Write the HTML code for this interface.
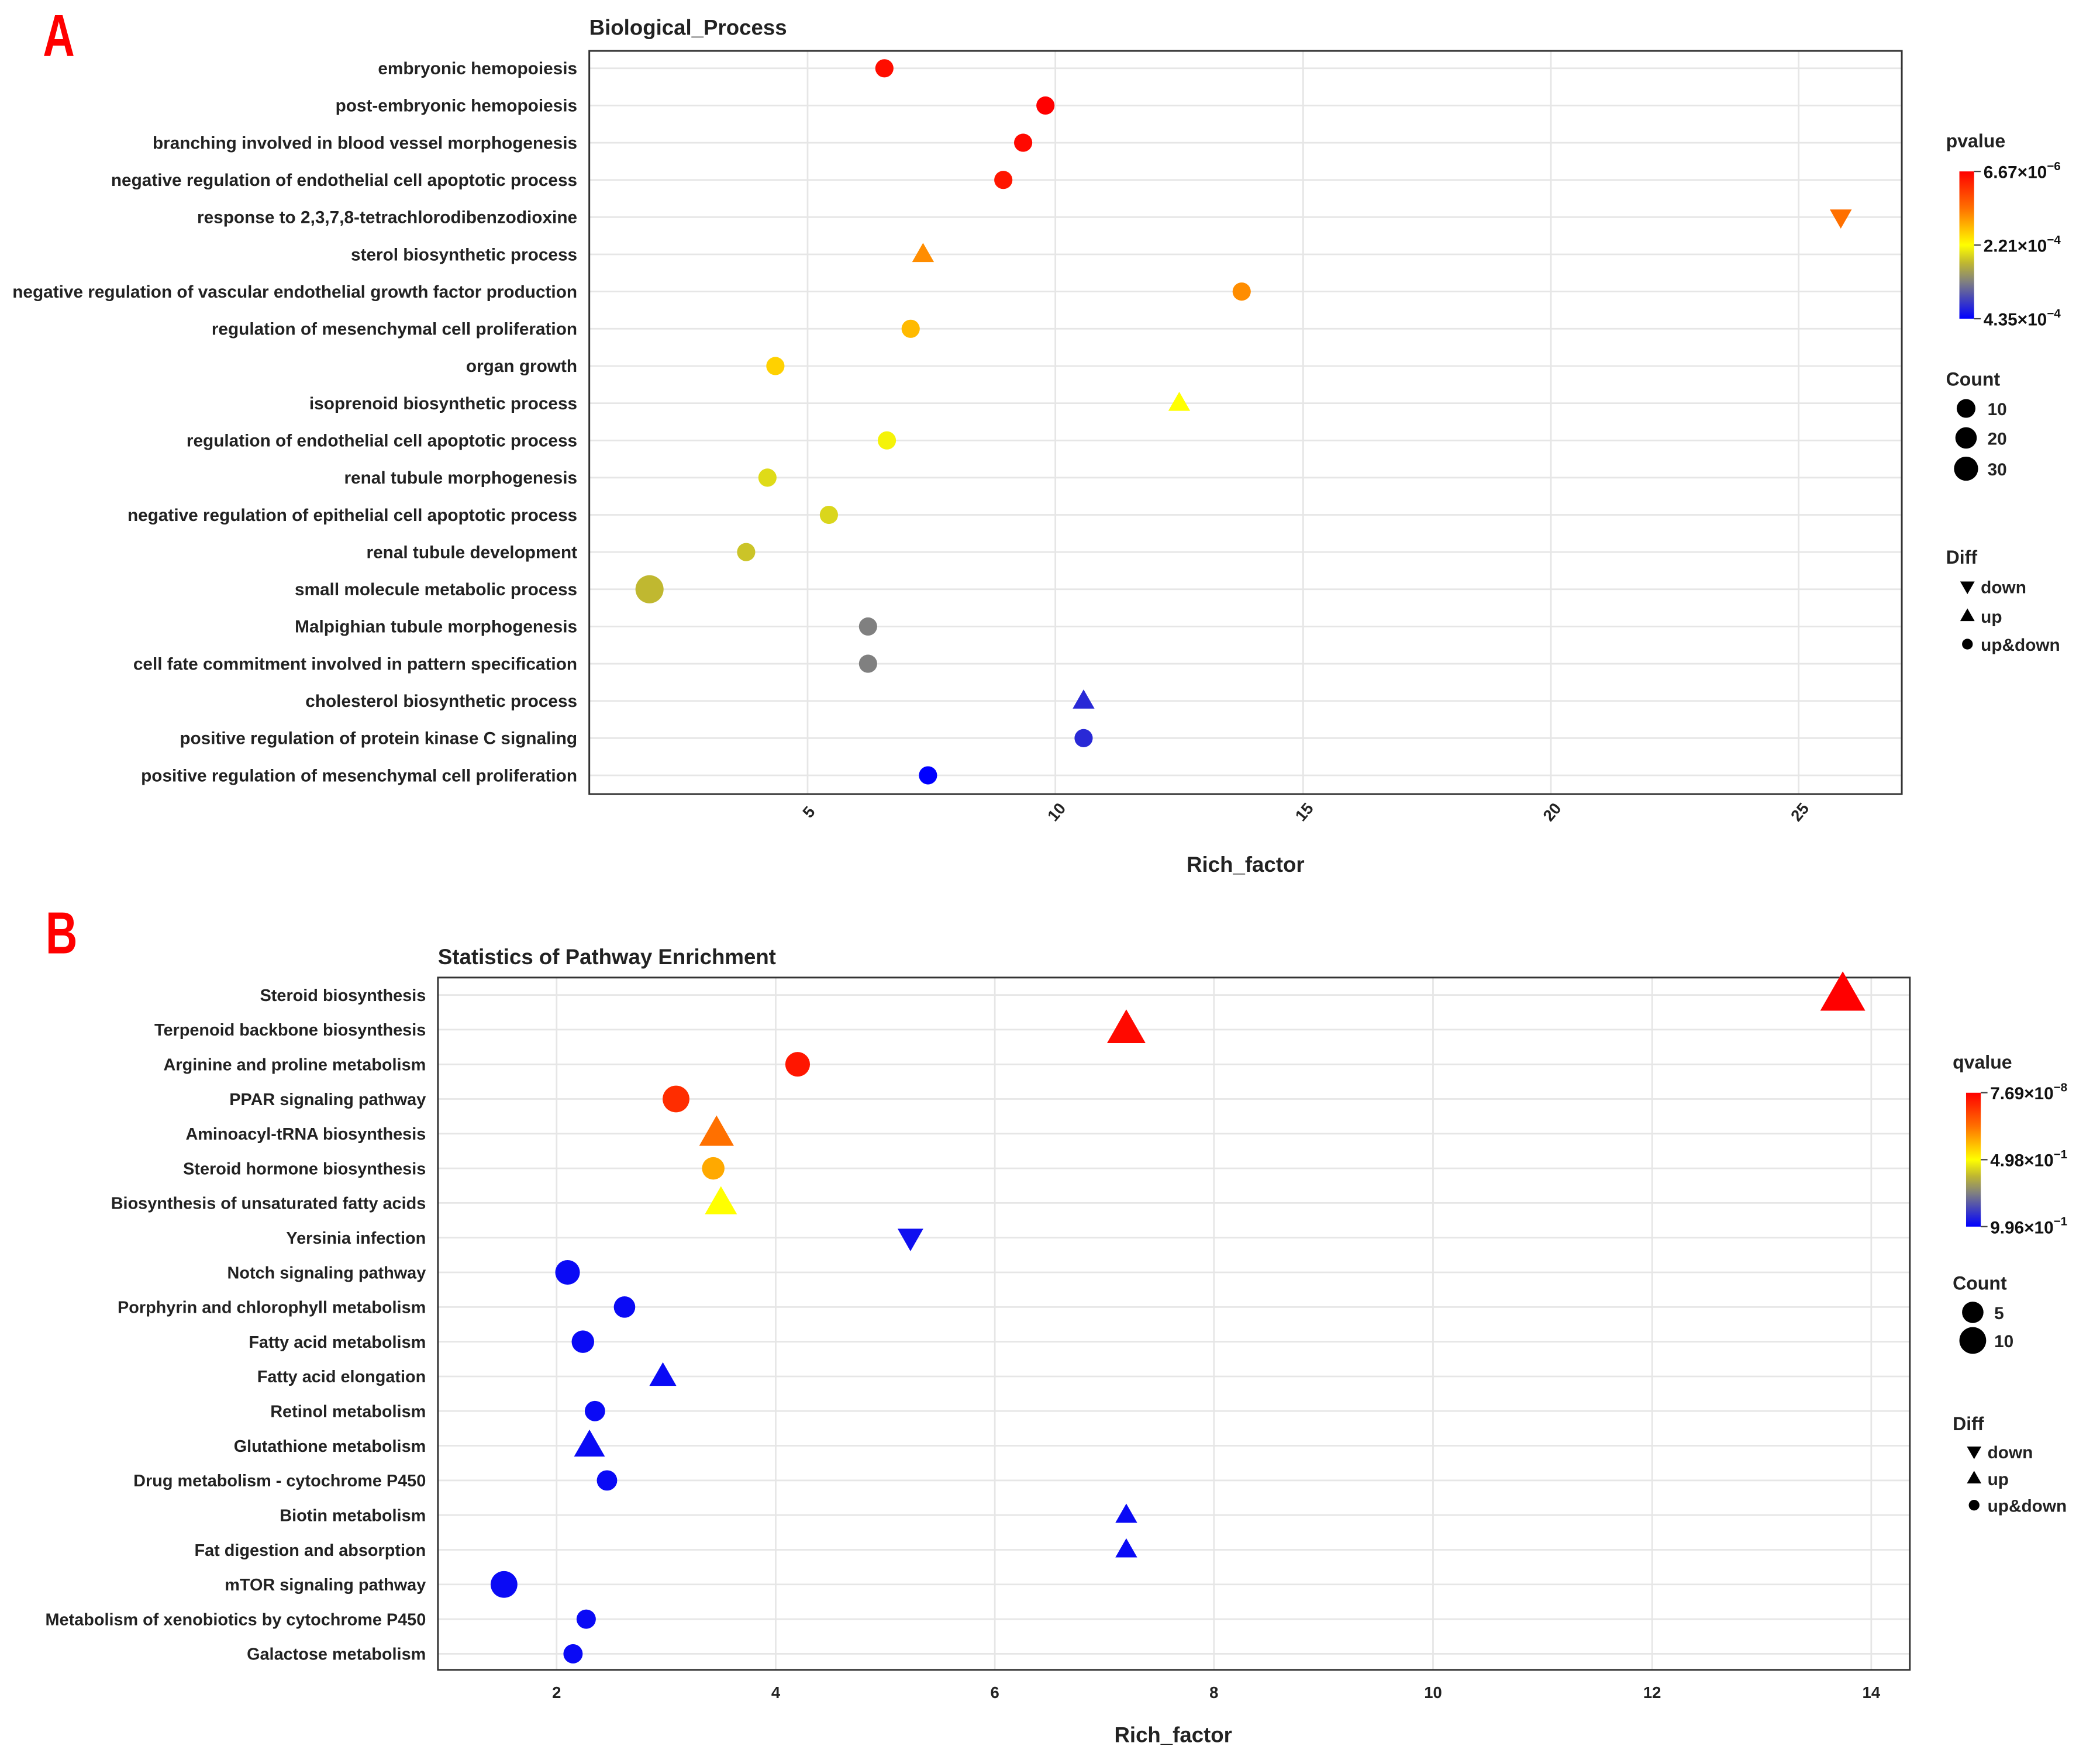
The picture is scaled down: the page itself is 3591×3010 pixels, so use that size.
<!DOCTYPE html>
<html><head><meta charset="utf-8">
<style>
html,body{margin:0;padding:0;background:#fff;}
svg{display:block;font-family:"Liberation Sans",Arial,sans-serif;}
</style></head>
<body>
<svg id="fig" width="3591" height="3010" viewBox="0 0 1568 1314.3" xmlns="http://www.w3.org/2000/svg">
<rect x="0" y="0" width="1568" height="1315" fill="#fff"/>
<text x="32" y="42" font-size="44" font-weight="bold" fill="#f00" transform="translate(32,0) scale(0.75,1) translate(-32,0)">A</text>
<text x="34" y="712" font-size="44" font-weight="bold" fill="#f00" transform="translate(34,0) scale(0.75,1) translate(-34,0)">B</text>
<g id="panelA"></g>
<g id="panelB"></g>
</svg>
<script>
// ---------- Panel A data ----------
const aTerms = ["embryonic hemopoiesis","post-embryonic hemopoiesis","branching involved in blood vessel morphogenesis","negative regulation of endothelial cell apoptotic process","response to 2,3,7,8-tetrachlorodibenzodioxine","sterol biosynthetic process","negative regulation of vascular endothelial growth factor production","regulation of mesenchymal cell proliferation","organ growth","isoprenoid biosynthetic process","regulation of endothelial cell apoptotic process","renal tubule morphogenesis","negative regulation of epithelial cell apoptotic process","renal tubule development","small molecule metabolic process","Malpighian tubule morphogenesis","cell fate commitment involved in pattern specification","cholesterol biosynthetic process","positive regulation of protein kinase C signaling","positive regulation of mesenchymal cell proliferation"];
const aRich = [6.55,9.8,9.35,8.95,25.85,7.33,13.76,7.08,4.35,12.5,6.6,4.19,5.43,3.76,1.81,6.22,6.22,10.57,10.57,7.43];
const aPval = [0.03,0.0,0.02,0.05,0.25,0.3,0.3,0.38,0.42,0.5,0.52,0.56,0.57,0.6,0.62,0.75,0.75,0.92,0.92,1.0];
const aCount = [8,8,8,8,8,8,8,8,8,8,8,8,8,8,45,8,8,8,8,8];
const aDiff = ["ud","ud","ud","ud","down","up","ud","ud","ud","up","ud","ud","ud","ud","ud","ud","ud","up","ud","ud"];
const aTicks = [5,10,15,20,25];
const aLegendTicks = ["6.67\u00d710","2.21\u00d710","4.35\u00d710"];
const aLegendExp = ["\u22126","\u22124","\u22124"];
const aCountLegend = [10,20,30];
// ---------- Panel B data ----------
const bTerms = ["Steroid biosynthesis","Terpenoid backbone biosynthesis","Arginine and proline metabolism","PPAR signaling pathway","Aminoacyl-tRNA biosynthesis","Steroid hormone biosynthesis","Biosynthesis of unsaturated fatty acids","Yersinia infection","Notch signaling pathway","Porphyrin and chlorophyll metabolism","Fatty acid metabolism","Fatty acid elongation","Retinol metabolism","Glutathione metabolism","Drug metabolism - cytochrome P450","Biotin metabolism","Fat digestion and absorption","mTOR signaling pathway","Metabolism of xenobiotics by cytochrome P450","Galactose metabolism"];
const bRich = [13.74,7.2,4.2,3.09,3.46,3.43,3.5,5.23,2.1,2.62,2.24,2.97,2.35,2.3,2.46,7.2,7.2,1.52,2.27,2.15];
const bQval = [0.0,0.02,0.05,0.1,0.25,0.35,0.5,0.97,0.98,0.98,0.98,0.98,0.98,0.98,0.98,0.98,0.98,0.98,0.98,0.98];
const bCount = [20,15,8,10,12,6,10,5,8,5,6,6,4,9,4,2,2,10,3,3];
const bDiff = ["up","up","ud","ud","up","ud","up","down","ud","ud","ud","up","ud","up","ud","up","up","ud","ud","ud"];
const bTicks = [2,4,6,8,10,12,14];
const bLegendTicks = ["7.69\u00d710","4.98\u00d710","9.96\u00d710"];
const bLegendExp = ["\u22128","\u22121","\u22121"];
const bCountLegend = [5,10];

const NS="http://www.w3.org/2000/svg";
function mk(parent,tag,attrs,text){const e=document.createElementNS(NS,tag);for(const k in attrs)e.setAttribute(k,attrs[k]);if(text!==undefined)e.textContent=text;parent.appendChild(e);return e;}
const stops=[[0,[255,0,0]],[0.25,[255,112,0]],[0.5,[255,255,0]],[0.62,[192,184,48]],[0.75,[128,128,128]],[1,[0,0,255]]];
function colorScale(t){for(let i=1;i<stops.length;i++){if(t<=stops[i][0]){const a=stops[i-1],b=stops[i];const f=(t-a[0])/(b[0]-a[0]);const c=a[1].map((v,j)=>Math.round(v+(b[1][j]-v)*f));return `rgb(${c[0]},${c[1]},${c[2]})`;}}return "rgb(0,0,255)";}
function marker(g,shape,cx,cy,r,fill){
  let e;
  if(shape==="ud"){e=mk(g,"circle",{cx:cx,cy:cy,r:r,fill:fill});}
  else{const h=r*2.1,w=r*1.2;
    if(shape==="up") e=mk(g,"polygon",{points:`${cx},${cy-h*0.6} ${cx-w},${cy+h*0.4} ${cx+w},${cy+h*0.4}`,fill:fill});
    else e=mk(g,"polygon",{points:`${cx},${cy+h*0.6} ${cx-w},${cy-h*0.4} ${cx+w},${cy-h*0.4}`,fill:fill});}
  return e;
}
function drawPanel(cfg){
  const g=document.getElementById(cfg.id);
  const {x0,x1,y0,y1,xmin,xmax}=cfg;
  const xs=v=>x0+(v-xmin)/(xmax-xmin)*(x1-x0);
  const n=cfg.terms.length;
  const ys=i=>cfg.rowTop+i*(cfg.rowBot-cfg.rowTop)/(n-1);
  const t=mk(g,"text",{x:x0,y:cfg.titleY,"font-size":16,"font-weight":"bold",fill:"#222"},cfg.title);
  
  
  mk(g,"rect",{x:x0,y:y0,width:x1-x0,height:y1-y0,fill:"#fff"});
  cfg.ticks.forEach(v=>{
    const l=mk(g,"line",{x1:xs(v),x2:xs(v),y1:y0,y2:y1,stroke:"#e6e6e6","stroke-width":1.2});
    
    
    let tx;
    if(cfg.rotate){tx=mk(g,"text",{x:xs(v)+4,y:y1+16,"font-size":12,"font-weight":"bold",fill:"#222","text-anchor":"middle",transform:`rotate(-50 ${xs(v)+4} ${y1+16})`},String(v));}
    else{tx=mk(g,"text",{x:xs(v),y:y1+21,"font-size":12,"font-weight":"bold",fill:"#222","text-anchor":"middle"},String(v));}
    
    
  });
  cfg.terms.forEach((s,i)=>{
    const l=mk(g,"line",{x1:x0,x2:x1,y1:ys(i),y2:ys(i),stroke:"#e6e6e6","stroke-width":1.2});
    
    
    const tx=mk(g,"text",{x:x0-9,y:ys(i)+4.5,"font-size":cfg.labelSize,"font-weight":"bold",fill:"#222","text-anchor":"end"},s);
    
    
  });
  const b=mk(g,"rect",{x:x0,y:y0,width:x1-x0,height:y1-y0,fill:"none",stroke:"#333","stroke-width":1.3});
  
  
  cfg.rich.forEach((v,i)=>{
    const m=marker(g,cfg.diff[i],xs(v),ys(i),cfg.rfun(cfg.count[i]),colorScale(cfg.col[i]));
    
    
  });
  const xl=mk(g,"text",{x:cfg.xlabX,y:cfg.xlabY,"font-size":16,"font-weight":"bold",fill:"#222","text-anchor":"middle"},"Rich_factor");
  
  
  const L=cfg.leg;
  const lt=mk(g,"text",{x:L.x,y:L.cTitle,"font-size":14,"font-weight":"bold",fill:"#222"},cfg.colTitle);
  
  
  const gid="grad"+cfg.id;
  const defs=mk(g,"defs",{});const lg=mk(defs,"linearGradient",{id:gid,x1:0,y1:0,x2:0,y2:1});
  stops.forEach(s=>mk(lg,"stop",{offset:s[0],"stop-color":colorScale(s[0])}));
  const cb=mk(g,"rect",{x:L.x+10,y:L.barTop,width:11,height:L.barBot-L.barTop,fill:`url(#${gid})`});
  
  
  cfg.legTicks.forEach((s,i)=>{
    const y=L.barTop+i*(L.barBot-L.barTop)/2;
    mk(g,"line",{x1:L.x+21,x2:L.x+26,y1:y,y2:y,stroke:"#444","stroke-width":1});
    const tx=mk(g,"text",{x:L.x+28,y:y+5,"font-size":13,"font-weight":"bold",fill:"#111"});
    
    
    mk(tx,"tspan",{},s);mk(tx,"tspan",{dy:-6,"font-size":9},cfg.legExp[i]);
  });
  const ct=mk(g,"text",{x:L.x,y:L.countTitle,"font-size":14,"font-weight":"bold",fill:"#222"},"Count");
  
  
  cfg.countLeg.forEach((c,i)=>{
    const y=L.countYs[i];
    const c1=mk(g,"circle",{cx:L.x+15,cy:y,r:cfg.rfun(c),fill:"#000"});
    
    
    const tx=mk(g,"text",{x:L.x+31,y:y+5,"font-size":13,"font-weight":"bold",fill:"#222"},String(c));
    
    
  });
  const dt=mk(g,"text",{x:L.x,y:L.diffTitle,"font-size":14,"font-weight":"bold",fill:"#222"},"Diff");
  
  
  [["down","down"],["up","up"],["ud","up&down"]].forEach((d,i)=>{
    const y=L.diffYs[i];
    const m=marker(g,d[0],L.x+16,y,d[0]==="ud"?4:4.5,"#000");
    
    
    const tx=mk(g,"text",{x:L.x+26,y:y+5,"font-size":13,"font-weight":"bold",fill:"#222"},d[1]);
    
    
  });
}
drawPanel({id:"panelA",title:"Biological_Process",titleY:26,x0:440,x1:1420,y0:38,y1:593,xmin:(440-418)/37,xmax:(1420-418)/37,
  rowTop:51,rowBot:579,terms:aTerms,rich:aRich,col:aPval,count:aCount,diff:aDiff,ticks:aTicks,rotate:true,labelSize:13,
  rfun:c=>6+0.1*c,xlabX:930,xlabY:651,colTitle:"pvalue",legTicks:aLegendTicks,legExp:aLegendExp,countLeg:aCountLegend,
  leg:{x:1453,cTitle:110,barTop:128,barBot:238,countTitle:288,countYs:[305,327,350],diffTitle:421,diffYs:[438,460,481]}});
drawPanel({id:"panelB",title:"Statistics of Pathway Enrichment",titleY:720,x0:327,x1:1426,y0:730,y1:1247,xmin:(327-252)/81.8,xmax:(1426-252)/81.8,
  rowTop:743,rowBot:1235,terms:bTerms,rich:bRich,col:bQval,count:bCount,diff:bDiff,ticks:bTicks,rotate:false,labelSize:12.6,
  rfun:c=>6+0.4*c,xlabX:876,xlabY:1301,colTitle:"qvalue",legTicks:bLegendTicks,legExp:bLegendExp,countLeg:bCountLegend,
  leg:{x:1458,cTitle:798,barTop:816,barBot:916,countTitle:963,countYs:[980,1001],diffTitle:1068,diffYs:[1084,1104,1124]}});
</script>
</body></html>
